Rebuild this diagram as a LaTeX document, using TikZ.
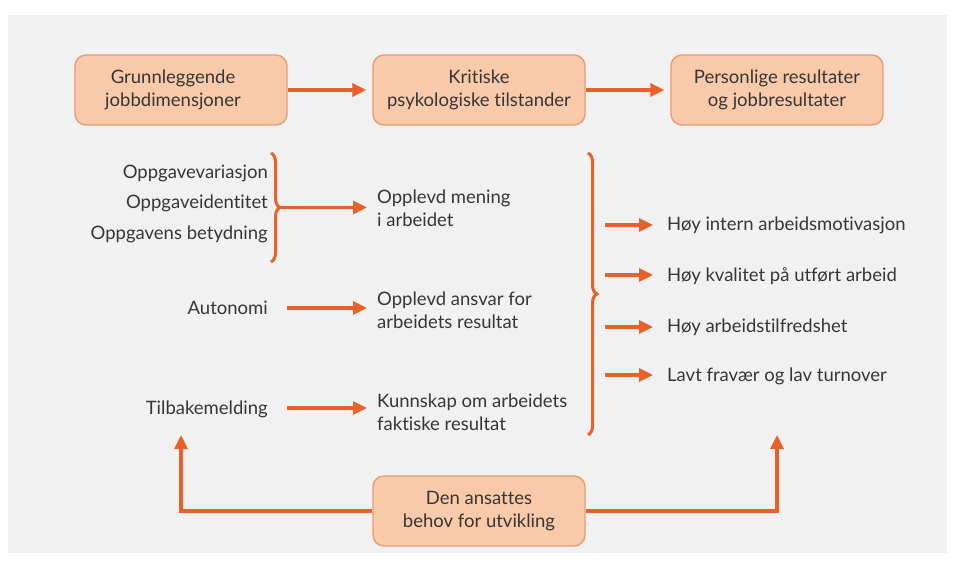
\documentclass[tikz,border=0pt]{standalone}
\usepackage{fontspec}
\setmainfont{Lato}[Ligatures=NoCommon]
\usetikzlibrary{arrows.meta,decorations.pathreplacing}
\definecolor{bg}{HTML}{F1F1F1}
\definecolor{boxfill}{HTML}{F9CAA9}
\definecolor{boxline}{HTML}{E99C74}
\definecolor{arrcol}{HTML}{E8602A}
\definecolor{txt}{HTML}{363636}
\begin{document}
\begin{tikzpicture}[x=1pt,y=-1pt,
  every node/.style={text=txt,font=\fontsize{18.5}{23}\selectfont},
  mainbox/.style={draw=boxline,line width=1.4pt,fill=boxfill,rounded corners=11pt,
    minimum width=212pt,minimum height=70pt,align=center,inner sep=0pt},
  lbl/.style={inner sep=0pt,align=left},
  arr/.style={draw=arrcol,line width=3.2pt,-{Triangle[length=14pt,width=13pt]}},
  brc/.style={draw=arrcol,line width=3pt,decorate,decoration={brace,amplitude=9pt}}
  ]
\useasboundingbox (0,0) rectangle (955,569);
\fill[white] (0,0) rectangle (955,569);
\fill[bg] (8,15) rectangle (947,553);

% top boxes
\node[mainbox] (b1) at (181,90) {\hspace*{-16pt}Grunnleggende\\\hspace*{-16pt}jobbdimensjoner};
\node[mainbox] (b2) at (479,90) {Kritiske\\psykologiske tilstander};
\node[mainbox] (b3) at (777,90) {Personlige resultater\\og jobbresultater};
\node[mainbox] (b4) at (479,511) {Den ansattes\\behov for utvikling};

\draw[arr,shorten >=6pt] (b1.east) -- (b2.west);
\draw[arr,shorten >=6pt] (b2.east) -- (b3.west);

% left column
\node[lbl,anchor=base east] (d1) at (268,179) {Oppgavevariasjon};
\node[lbl,anchor=base east] (d2) at (268,209) {Oppgaveidentitet};
\node[lbl,anchor=base east] (d3) at (268,240) {Oppgavens betydning};
\node[lbl,anchor=base east] (d4) at (268,314) {Autonomi};
\node[lbl,anchor=base east] (d5) at (268,414) {Tilbakemelding};

% middle column
\node[lbl,anchor=west] (m1) at (377,208) {Opplevd mening\\i arbeidet};
\node[lbl,anchor=west] (m2) at (377,310) {Opplevd ansvar for\\arbeidets resultat};
\node[lbl,anchor=west] (m3) at (377,412) {Kunnskap om arbeidets\\faktiske resultat};

% braces
\draw[brc] (271,153) -- (271,262);
\coordinate (lb) at (281,207.5);
\draw[brc] (588,153) -- (588,435);
\coordinate (rb) at (598,294);

\draw[arr,shorten >=10pt] (lb) -- (lb -| m1.west);
\draw[arr,shorten <=19pt,shorten >=10pt] (d4.east |- 0,308) -- (m2.west |- 0,308);
\draw[arr,shorten <=19pt,shorten >=10pt] (d5.east |- 0,408) -- (m3.west |- 0,408);

% right column
\node[lbl,anchor=west] (r1) at (667,225) {Høy intern arbeidsmotivasjon};
\node[lbl,anchor=west] (r2) at (667,276) {Høy kvalitet på utført arbeid};
\node[lbl,anchor=west] (r3) at (667,327) {Høy arbeidstilfredshet};
\node[lbl,anchor=west] (r4) at (667,376) {Lavt fravær og lav turnover};

\foreach \r/\y in {r1/225,r2/275,r3/327,r4/375}{
  \draw[arr,shorten <=7pt,shorten >=14pt] (rb |- 0,\y) -- (\r.west |- 0,\y);
}

% bottom feedback
\coordinate (tl) at (181,435);
\coordinate (tr) at (777,435);
\draw[arr] (b4.west) -| (tl);
\draw[arr] (b4.east) -| (tr);
\end{tikzpicture}
\end{document}
